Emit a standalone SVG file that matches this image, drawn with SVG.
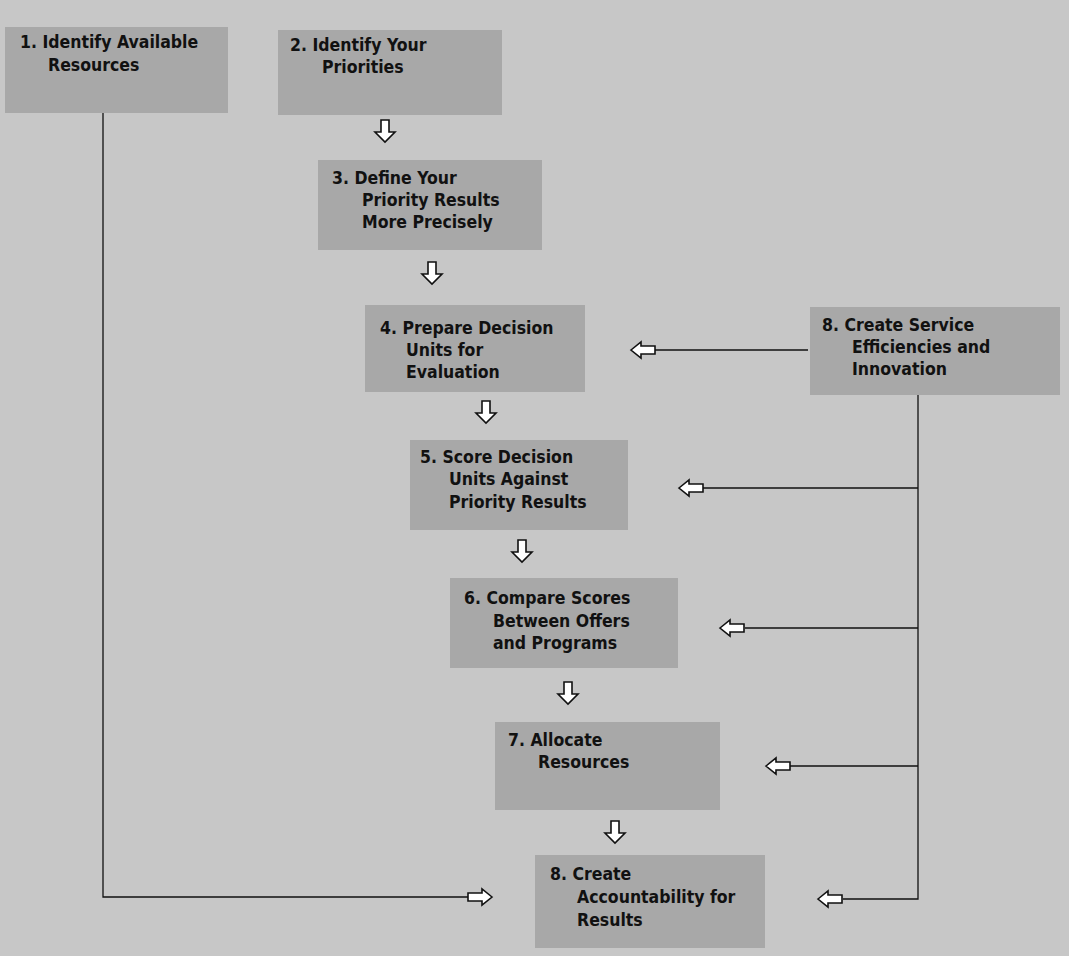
<svg xmlns="http://www.w3.org/2000/svg" width="1069" height="956" viewBox="0 0 1069 956">
<style>
.box{fill:#a8a8a8;}
.t{font-family:"DejaVu Sans Condensed","DejaVu Sans",sans-serif;font-weight:bold;font-size:17.5px;fill:#111;}
.ln{stroke:#111;stroke-width:1.3;fill:none;}
.ar{fill:#fff;stroke:#111;stroke-width:1.6;stroke-linejoin:miter;}
</style>
<defs>
<path id="down" d="M-4,0 H4 V12 H10 L0,22 L-10,12 H-4 Z"/>
<path id="left" d="M0,0 L10,-8 V-4 H24 V4 H10 V8 Z"/>
<path id="right" d="M0,0 L-10,-8 V-4 H-24 V4 H-10 V8 Z"/>
</defs>
<rect width="1069" height="956" fill="#c7c7c7"/>

<g id="connectors">
<path class="ln" d="M103,113 V897 H468"/>
<path class="ln" d="M918,395 V899 H843"/>
<path class="ln" d="M655,350 H808"/>
<path class="ln" d="M703,488 H918"/>
<path class="ln" d="M745,628 H918"/>
<path class="ln" d="M790,766 H918"/>
<use href="#down" class="ar" x="385" y="120"/>
<use href="#down" class="ar" x="432" y="262"/>
<use href="#down" class="ar" x="486" y="401"/>
<use href="#down" class="ar" x="522" y="540"/>
<use href="#down" class="ar" x="568" y="682"/>
<use href="#down" class="ar" x="615" y="821"/>
<use href="#left" class="ar" x="631" y="350"/>
<use href="#left" class="ar" x="679" y="488"/>
<use href="#left" class="ar" x="720" y="628"/>
<use href="#left" class="ar" x="766" y="766"/>
<use href="#left" class="ar" x="818" y="899"/>
<use href="#right" class="ar" x="492" y="897"/>
</g>

<g id="n1">
<rect class="box" x="5" y="27" width="223" height="86"/>
<text class="t" x="20" y="48">1. Identify Available</text>
<text class="t" x="48" y="71">Resources</text>
</g>
<g id="n2">
<rect class="box" x="278" y="30" width="224" height="85"/>
<text class="t" x="290" y="51">2.  Identify Your</text>
<text class="t" x="322" y="73">Priorities</text>
</g>
<g id="n3">
<rect class="box" x="318" y="160" width="224" height="90"/>
<text class="t" x="332" y="184">3.  Define Your</text>
<text class="t" x="362" y="206">Priority Results</text>
<text class="t" x="362" y="228">More Precisely</text>
</g>
<g id="n4">
<rect class="box" x="365" y="305" width="220" height="87"/>
<text class="t" x="380" y="334">4. Prepare Decision</text>
<text class="t" x="406" y="356">Units for</text>
<text class="t" x="406" y="378">Evaluation</text>
</g>
<g id="n8a">
<rect class="box" x="810" y="307" width="250" height="88"/>
<text class="t" x="822" y="331">8. Create Service</text>
<text class="t" x="852" y="353">Efficiencies and</text>
<text class="t" x="852" y="375">Innovation</text>
</g>
<g id="n5">
<rect class="box" x="410" y="440" width="218" height="90"/>
<text class="t" x="420" y="463">5.  Score Decision</text>
<text class="t" x="449" y="485">Units Against</text>
<text class="t" x="449" y="508">Priority Results</text>
</g>
<g id="n6">
<rect class="box" x="450" y="578" width="228" height="90"/>
<text class="t" x="464" y="604">6. Compare Scores</text>
<text class="t" x="493" y="627">Between Offers</text>
<text class="t" x="493" y="649">and Programs</text>
</g>
<g id="n7">
<rect class="box" x="495" y="722" width="225" height="88"/>
<text class="t" x="508" y="746">7.  Allocate</text>
<text class="t" x="538" y="768">Resources</text>
</g>
<g id="n8b">
<rect class="box" x="535" y="855" width="230" height="93"/>
<text class="t" x="550" y="880">8. Create</text>
<text class="t" x="577" y="903">Accountability for</text>
<text class="t" x="577" y="926">Results</text>
</g>
</svg>
